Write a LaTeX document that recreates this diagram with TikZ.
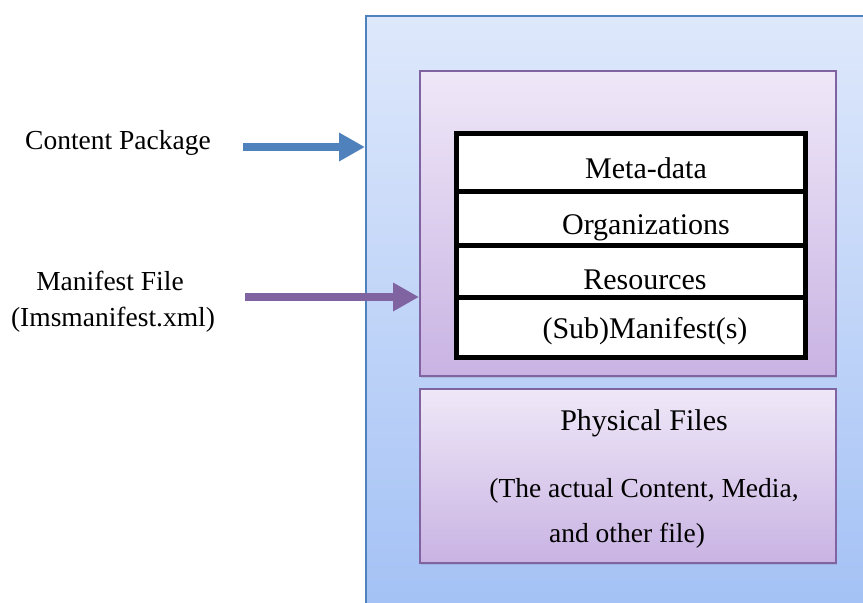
\documentclass[tikz,border=0pt]{standalone}
\usepackage{fontspec}
\setmainfont{Liberation Serif}
\usetikzlibrary{arrows.meta,shadows}
\definecolor{bluebd}{HTML}{4F81BD}
\definecolor{purpbd}{HTML}{8064A2}
\definecolor{bluetop}{HTML}{DEE8FB}
\definecolor{bluebot}{HTML}{A3C1F5}
\definecolor{purtop}{HTML}{EFE8F8}
\definecolor{purbot}{HTML}{C9B3E3}
\tikzset{
  txt/.style={font=\fontsize{27.5}{33}\selectfont, inner sep=0pt},
  bigtxt/.style={font=\fontsize{30}{36}\selectfont, inner sep=0pt},
  purbox/.style={draw=purpbd, line width=1.5pt, top color=purtop, bottom color=purbot,
    drop shadow={shadow xshift=1pt, shadow yshift=-2pt, opacity=0.25}},
  cell/.style={draw=black, fill=white, line width=5pt, minimum width=349pt, inner sep=0pt},
  bigarrow/.style={line width=8pt, -{Triangle[length=26pt,width=27pt]}},
}
\begin{document}
\begin{tikzpicture}[x=1pt,y=-1pt]
\useasboundingbox (0,0) rectangle (863,603);
\begin{scope}
\clip (0,0) rectangle (863,603);
% outer package box
\node[draw=bluebd, line width=1.5pt, top color=bluetop, bottom color=bluebot,
  minimum width=520pt, minimum height=600pt, inner sep=0pt, anchor=north west] (pkg) at (365,15) {};
\end{scope}
% manifest box
\node[purbox, minimum width=416pt, minimum height=305pt, inner sep=0pt, anchor=north west] (man) at (419,70) {};
% table cells
\node[cell, minimum height=58pt] (c1) at (631,162) {};
\node[cell, minimum height=54pt] (c2) at (631,218) {};
\node[cell, minimum height=52pt] (c3) at (631,271) {};
\node[cell, minimum height=60pt] (c4) at (631,327) {};
\node[bigtxt] (t1) at (646,168) {Meta-data};
\node[bigtxt] (t2) at (646,228) {Organizations};
\node[bigtxt] (t3) at (645,280) {Resources};
\node[bigtxt] (t4) at (645,331) {(Sub)Manifest(s)};
% physical files box
\node[purbox, minimum width=416pt, minimum height=174pt, inner sep=0pt, anchor=north west] (phy) at (419,388) {};
\node[bigtxt] (p1) at (644,423) {Physical Files};
\node[txt] (p2) at (644,491) {(The actual Content, Media,};
\node[txt] (p3) at (627,536) {and other file)};
% left labels
\node[txt] (lcp) at (118,143) {Content Package};
\node[txt] (lmf1) at (110,281) {Manifest File};
\node[txt] (lmf2) at (113,320) {(Imsmanifest.xml)};
% arrows
\coordinate (a1) at (243,147);
\coordinate (a2) at (245,297);
\draw[bigarrow, bluebd] (a1) -- (a1 -| pkg.west);
\draw[bigarrow, purpbd] (a2) -- (a2 -| man.west);
\end{tikzpicture}
\end{document}
